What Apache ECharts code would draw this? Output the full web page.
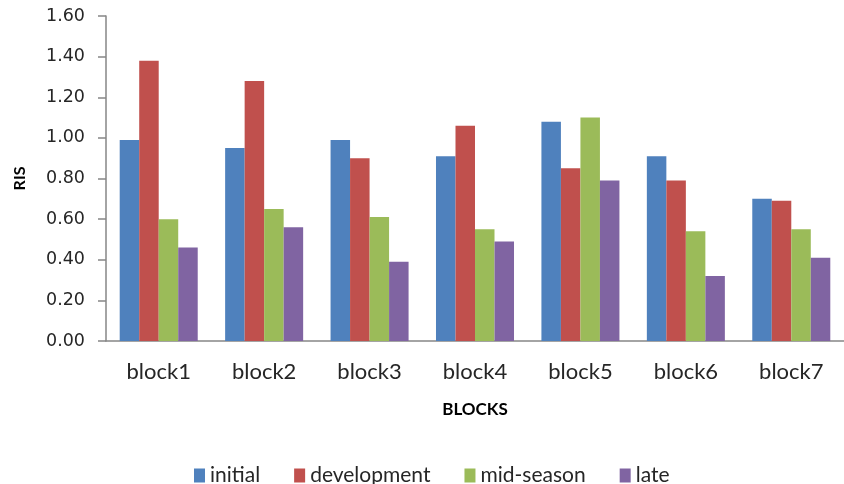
<!DOCTYPE html>
<html>
<head>
<meta charset="utf-8">
<script src="https://cdn.jsdelivr.net/npm/echarts@6/dist/echarts.min.js"></script>
<style>
  html, body { margin: 0; padding: 0; background: #fff; }
  #chart { width: 844px; height: 484px; }
</style>
</head>
<body>
<div id="chart"></div>
<script>
// data
var blocks = ["block1", "block2", "block3", "block4", "block5", "block6", "block7"];
var initial = [0.99, 0.95, 0.99, 0.91, 1.08, 0.91, 0.70];
var development = [1.38, 1.28, 0.90, 1.06, 0.85, 0.79, 0.69];
var midSeason = [0.60, 0.65, 0.61, 0.55, 1.10, 0.54, 0.55];
var late = [0.46, 0.56, 0.39, 0.49, 0.79, 0.32, 0.41];
var seriesNames = ["initial", "development", "mid-season", "late"];

var myChart = echarts.init(document.getElementById("chart"));
var colors = ["#4F81BD", "#C0504D", "#9BBB59", "#8064A2"];
var axisGrey = "#868686";

function barSeries(name, data) {
  return {
    name: name,
    type: "bar",
    barGap: 0,
    barCategoryGap: "26%",
    data: data
  };
}

var option = {
  color: colors,
  animation: false,
  grid: {
    left: 106,
    top: 16,
    width: 747, // plot runs a bit past the right edge, like the picture
    height: 325
  },
  legend: {
    data: seriesNames,
    left: 189,
    top: 460,
    itemWidth: 11,
    itemHeight: 14,
    itemGap: 34,
    icon: "rect",
    textStyle: {
      fontFamily: "Lato",
      fontSize: 21,
      color: "#262626"
    }
  },
  xAxis: {
    type: "category",
    data: blocks,
    name: "BLOCKS",
    nameLocation: "middle",
    nameGap: 60,
    nameTextStyle: {
      fontFamily: "Lato",
      fontWeight: "bold",
      fontSize: 17,
      color: "#000"
    },
    axisLine: { lineStyle: { color: axisGrey, width: 1.5 } },
    axisTick: { length: 7, lineStyle: { color: axisGrey, width: 1.5 } },
    axisLabel: {
      margin: 20,
      fontFamily: "Lato",
      fontSize: 22,
      color: "#262626"
    }
  },
  yAxis: {
    type: "value",
    min: 0,
    max: 1.6,
    interval: 0.2,
    name: "RIS",
    nameLocation: "middle",
    nameGap: 78,
    nameTextStyle: {
      fontFamily: "Lato",
      fontWeight: "bold",
      fontSize: 16,
      color: "#000"
    },
    splitLine: { show: false },
    axisLine: { show: true, lineStyle: { color: axisGrey, width: 1.5 } },
    axisTick: { show: true, length: 8, lineStyle: { color: axisGrey, width: 1.5 } },
    axisLabel: {
      margin: 21,
      fontFamily: "DejaVu Sans",
      fontSize: 17.5,
      color: "#262626",
      formatter: function (v) {
        return v.toFixed(2);
      }
    }
  },
  series: [
    barSeries(seriesNames[0], initial),
    barSeries(seriesNames[1], development),
    barSeries(seriesNames[2], midSeason),
    barSeries(seriesNames[3], late)
  ]
};
myChart.setOption(option);
</script>
</body>
</html>
